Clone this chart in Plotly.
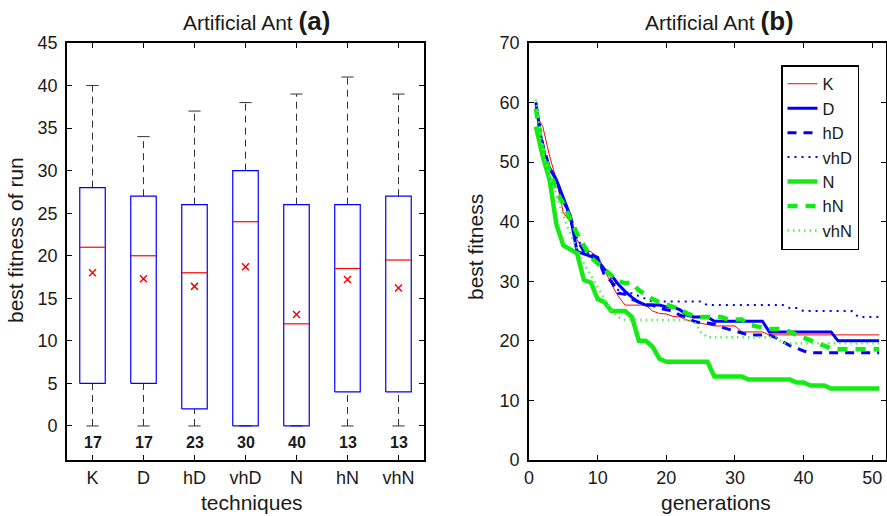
import plotly.graph_objects as go

# ---------------- panel (a): box summary ----------------
techniques = ["K", "D", "hD", "vhD", "N", "hN", "vhN"]
q1 = [5, 5, 2, 0, 0, 4, 4]
median = [21, 20, 18, 24, 12, 18.5, 19.5]
q3 = [28, 27, 26, 30, 26, 26, 27]
whisker_lo = [0, 0, 0, 0, 0, 0, 0]
whisker_hi = [40, 34, 37, 38, 39, 41, 39]
means = [18.0, 17.3, 16.4, 18.7, 13.1, 17.2, 16.2]
counts = [17, 17, 23, 30, 40, 13, 13]

# ---------------- panel (b): best fitness per generation ----------------
generations = list(range(1, 52))
fit_K = [58, 56, 51, 47, 41.5, 40, 37, 35, 35, 34, 32, 29.5, 27.5, 26, 26, 26, 26, 25, 24.6, 24.5,
         24.1, 24, 23.5, 23.2, 23, 22.7, 22.5, 22.5, 22.5, 22.5, 21.5, 21.5, 21.5, 21.5, 21, 21, 21, 21, 21, 21,
         21, 21, 21, 21, 21, 21, 21, 21, 21, 21, 21]
fit_D = [60, 52, 49, 47, 44, 41, 35, 34.6, 34.2, 33.5, 32, 31, 29.5, 28.3, 27.3, 26.5, 26, 26, 26, 25.7,
         25.7, 25.2, 24.3, 24, 24, 24, 23.3, 23.3, 23.3, 23.3, 23.3, 23.3, 23.3, 23.3, 21.5, 21.5, 21.5, 21.5, 21.5, 21.5,
         21.5, 21.5, 21.5, 21.5, 20, 20, 20, 20, 20, 20, 20]
fit_hD = [59, 53, 49, 47, 43.5, 41, 37, 35, 34.5, 34, 31, 30, 28, 27.8, 27, 26.5, 26, 26, 25.5, 25.2,
          25, 24.3, 24, 23.3, 23, 23, 22.8, 22.3, 22, 21.7, 21.3, 21, 21, 21, 21, 20.5, 19.8, 19.2, 18.8, 18.3,
          18, 18, 18, 18, 18, 18, 18, 18, 18, 18, 18]
fit_vhD = [60, 53, 49, 47, 44, 40, 37.5, 35, 34.5, 34, 32, 30.5, 28.5, 28, 28, 27.5, 27, 26.6, 26.6, 26.6,
           26.6, 26.6, 26.6, 26.6, 26.6, 26, 26, 26, 26, 26, 26, 26, 26, 26, 26, 26, 26, 25.5, 25.5, 25,
           25, 25, 25, 25, 25, 25, 25, 24, 24, 24, 24]
fit_N = [56, 51, 47, 39.5, 36, 35.3, 34.7, 30.2, 29.8, 27, 26.5, 25, 25, 25, 24, 20, 20, 19, 17, 16.5,
         16.5, 16.5, 16.5, 16.5, 16.5, 16.5, 14, 14, 14, 14, 14, 13.5, 13.5, 13.5, 13.5, 13.5, 13.5, 13.5, 13, 13,
         12.5, 12.5, 12.5, 12, 12, 12, 12, 12, 12, 12, 12]
fit_hN = [59, 52, 48.5, 45, 43, 40.5, 38, 36, 34, 33, 32, 31, 30, 29.7, 29.7, 28.5, 27.7, 27, 26.5, 26,
          25.7, 25.4, 24.6, 24.2, 24, 24, 24, 24, 23.6, 23.6, 23.6, 22.7, 22.5, 22.2, 22, 22, 22, 21.5, 21, 20.4,
          20, 19.6, 19.2, 18.7, 18.6, 18.6, 18.6, 18.6, 18.6, 18.6, 18.6]
fit_vhN = [60.5, 52, 47.5, 44.5, 41, 38, 35.5, 33, 31, 29, 27, 25, 24, 23.5, 23.5, 23.5, 23.5, 23.5, 23.5, 23.5,
           23.5, 23.5, 23.5, 23.3, 21.5, 20.6, 20.6, 20.6, 20.6, 20.6, 20.6, 20.6, 20.6, 20.6, 20.6, 20.6, 19.6, 19.6, 19.6, 19.6,
           19.6, 19.6, 19.6, 19.6, 19.6, 19.6, 19.6, 19.6, 19.6, 19.6, 19.6]

FONT = "Liberation Sans, Arial, Helvetica, sans-serif"
TXT = "#1a1a1a"
BLUE = "#0000ff"
RED = "#ff0000"
GREEN = "#14eb14"

fig = go.Figure()

# ----- boxes (panel a) -----
half_w = 0.25
cap_w = 0.12
for i, name in enumerate(techniques):
    c = i + 1
    fig.add_trace(go.Scatter(x=[c, c], y=[q3[i], whisker_hi[i]], mode="lines",
                             line=dict(color="#333333", width=1, dash="7px,5px"),
                             xaxis="x", yaxis="y", showlegend=False, hoverinfo="skip"))
    fig.add_trace(go.Scatter(x=[c, c], y=[whisker_lo[i], q1[i]], mode="lines",
                             line=dict(color="#333333", width=1, dash="7px,5px"),
                             xaxis="x", yaxis="y", showlegend=False, hoverinfo="skip"))
    for v in (whisker_hi[i], whisker_lo[i]):
        fig.add_trace(go.Scatter(x=[c - cap_w, c + cap_w], y=[v, v], mode="lines",
                                 line=dict(color="#333333", width=1),
                                 xaxis="x", yaxis="y", showlegend=False, hoverinfo="skip"))
    fig.add_trace(go.Scatter(x=[c - half_w, c + half_w, c + half_w, c - half_w, c - half_w],
                             y=[q1[i], q1[i], q3[i], q3[i], q1[i]], mode="lines",
                             line=dict(color=BLUE, width=1.2),
                             xaxis="x", yaxis="y", showlegend=False, hoverinfo="skip"))
    fig.add_trace(go.Scatter(x=[c - half_w, c + half_w], y=[median[i], median[i]], mode="lines",
                             line=dict(color=RED, width=1.2),
                             xaxis="x", yaxis="y", showlegend=False, hoverinfo="skip"))

fig.add_trace(go.Scatter(x=list(range(1, len(techniques) + 1)), y=means, mode="markers",
                         marker=dict(symbol="x-thin", size=7, line=dict(color=RED, width=1.5)),
                         xaxis="x", yaxis="y", showlegend=False, hoverinfo="skip"))

# ----- lines (panel b) -----
series = [
    ("K", fit_K, dict(color=RED, width=1)),
    ("D", fit_D, dict(color=BLUE, width=3)),
    ("hD", fit_hD, dict(color=BLUE, width=3, dash="9px,7px")),
    ("vhD", fit_vhD, dict(color=BLUE, width=2, dash="2px,5px")),
    ("N", fit_N, dict(color=GREEN, width=4.5)),
    ("hN", fit_hN, dict(color=GREEN, width=4.5, dash="10px,8px")),
    ("vhN", fit_vhN, dict(color="#55f055", width=2.5, dash="1.5px,4px")),
]
for name, vals, ln in series:
    fig.add_trace(go.Scatter(x=generations, y=vals, mode="lines", name=name, line=ln,
                             xaxis="x2", yaxis="y2"))

# ----- layout -----
L, R, T, B = 67, 1, 43, 56
W, H = 887, 516
pw = W - L - R
ph = H - T - B


def px(xp):
    return (xp - L) / pw


def py(yp):
    return (H - B - yp) / ph


axis_common = dict(showline=True, linecolor="black", linewidth=1.8, mirror="ticks",
                   ticks="inside", ticklen=5, tickwidth=1, tickcolor="black",
                   showgrid=False, zeroline=False, automargin=False,
                   tickfont=dict(family=FONT, size=18, color=TXT))

fig.update_layout(
    width=W, height=H,
    margin=dict(l=L, r=R, t=T, b=B, pad=0, autoexpand=False),
    paper_bgcolor="white", plot_bgcolor="white",
    font=dict(family=FONT, color=TXT),
    xaxis=dict(domain=[0, px(424)], range=[0.5, 7.5],
               tickvals=list(range(1, len(techniques) + 1)), ticktext=techniques,
               anchor="y", **axis_common),
    yaxis=dict(domain=[0, 1], range=[-4, 45], tickvals=list(range(0, 46, 5)),
               anchor="x", ticklabelstandoff=4, **axis_common),
    xaxis2=dict(domain=[px(529), 1], range=[0, 52], tickvals=list(range(0, 51, 10)),
                anchor="y2", **axis_common),
    yaxis2=dict(domain=[0, 1], range=[0, 70], tickvals=list(range(0, 71, 10)),
                anchor="x2", ticklabelstandoff=4, **axis_common),
    legend=dict(x=px(781), y=py(65), xanchor="left", yanchor="top",
                bgcolor="white", bordercolor="black", borderwidth=1.5,
                font=dict(family=FONT, size=16.5, color=TXT),
                tracegroupgap=0, itemwidth=30),
    showlegend=True,
)

annotations = []
for i, n in enumerate(counts):
    annotations.append(dict(x=i + 1, y=-2, xref="x", yref="y", text=f"<b>{n}</b>",
                            xanchor="center", yanchor="middle",
                            showarrow=False, font=dict(family=FONT, size=16, color=TXT)))


def label(xp, yp, text, size, angle=0):
    return dict(x=px(xp), y=py(yp), xref="paper", yref="paper", showarrow=False,
                xanchor="center", yanchor="middle", textangle=angle, text=text,
                font=dict(family=FONT, size=size, color=TXT))


annotations += [
    label(256, 21, "Artificial Ant <b><span style='font-size:26px'>(a)</span></b>", 21),
    label(719, 21, "Artificial Ant <b><span style='font-size:26px'>(b)</span></b>", 21),
    label(252, 502, "techniques", 21),
    label(716, 502, "generations", 21),
    label(16, 240, "best fitness of run", 21, -90),
    label(476, 247, "best fitness", 21, -90),
]
fig.update_layout(annotations=annotations)

fig.write_html("out.html", config={"displayModeBar": False},
               post_script="document.body.style.margin='0px';")
